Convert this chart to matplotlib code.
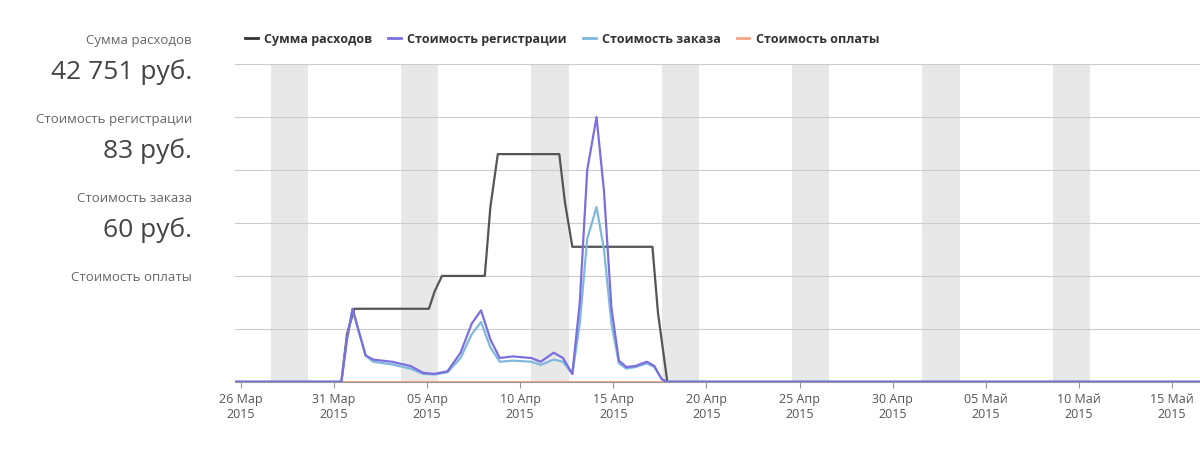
import matplotlib.pyplot as plt
from matplotlib.lines import Line2D

plt.rcParams['font.family'] = ['Open Sans', 'DejaVu Sans']

# day offsets from 26 Mar 2015
tick_days = [0, 5, 10, 15, 20, 25, 30, 35, 40, 45, 50]
tick_labels = ['26 Мар\n2015', '31 Мар\n2015', '05 Апр\n2015', '10 Апр\n2015', '15 Апр\n2015',
               '20 Апр\n2015', '25 Апр\n2015', '30 Апр\n2015', '05 Май\n2015', '10 Май\n2015',
               '15 Май\n2015']
weekend_starts = [1.6, 8.6, 15.6, 22.6, 29.6, 36.6, 43.6]

total_x = [-0.3, 5.4, 5.7, 6.1, 10.1, 10.4, 10.8, 13.1, 13.4, 13.8, 17.1, 17.4, 17.8, 22.1, 22.4, 22.9, 51.5]
total_y = [0, 0, 0.9, 1.38, 1.38, 1.7, 2.0, 2.0, 3.3, 4.3, 4.3, 3.4, 2.55, 2.55, 1.3, 0, 0]

day_x = [-0.3, 5.4, 5.7, 6.0, 6.3, 6.7, 7.1, 8.1, 9.1, 9.8, 10.4, 11.1, 11.8, 12.4, 12.9, 13.4,
         13.9, 14.6, 15.6, 16.1, 16.8, 17.3, 17.8, 18.2, 18.6, 19.1, 19.5, 19.9, 20.3, 20.7,
         21.2, 21.8, 22.2, 22.6, 22.9, 51.5]
reg_y = [0, 0, 0.8, 1.38, 1.0, 0.5, 0.42, 0.38, 0.3, 0.17, 0.15, 0.2, 0.55, 1.1, 1.35, 0.8,
         0.45, 0.48, 0.45, 0.38, 0.55, 0.45, 0.15, 1.5, 4.0, 5.0, 3.6, 1.4, 0.4, 0.28,
         0.3, 0.38, 0.3, 0.05, 0, 0]
order_y = [0, 0, 0.8, 1.38, 1.0, 0.5, 0.38, 0.33, 0.25, 0.15, 0.14, 0.18, 0.45, 0.9, 1.13, 0.65,
           0.38, 0.4, 0.38, 0.32, 0.42, 0.38, 0.15, 1.1, 2.7, 3.3, 2.5, 1.1, 0.35, 0.25,
           0.28, 0.35, 0.28, 0.05, 0, 0]
pay_x = [-0.3, 51.5]
pay_y = [0, 0]

fig = plt.figure(figsize=(12, 4.52), dpi=100)
ax = fig.add_axes([0.196, 0.153, 0.804, 0.703])

for s in weekend_starts:
    ax.axvspan(s, s + 2, color='#e8e8e8', lw=0, zorder=0)
for g in range(1, 7):
    ax.axhline(g, color='#cccccc', lw=0.8, zorder=1)

ax.plot(pay_x, pay_y, color='#f4a582', lw=1.5, zorder=2)
ax.plot(total_x, total_y, color='#555555', lw=1.6, zorder=3)
ax.plot(day_x, order_y, color='#7fb8dc', lw=1.6, zorder=4)
ax.plot(day_x, reg_y, color='#7b6fe0', lw=1.6, zorder=5)

ax.set_xlim(-0.3, 51.5)
ax.set_ylim(0, 6)
ax.set_yticks([])
ax.set_xticks(tick_days)
ax.set_xticklabels(tick_labels, fontsize=9, color='#555555')
ax.tick_params(axis='x', length=4, color='#999999')
for side in ['top', 'right', 'left']:
    ax.spines[side].set_visible(False)
ax.spines['bottom'].set_color('#999999')

handles = [Line2D([], [], color=c, lw=2) for c in ['#333333', '#7b6fe0', '#7fb8dc', '#f4a582']]
names = ['Сумма расходов', 'Стоимость регистрации', 'Стоимость заказа', 'Стоимость оплаты']
fig.legend(handles, names, loc='center left', bbox_to_anchor=(0.195, 0.912), ncol=4,
           frameon=False, prop={'size': 9, 'weight': 'bold'}, handlelength=1.0,
           columnspacing=1.3, handletextpad=0.5, labelcolor='#333333')

left = [('Сумма расходов', '42 751 руб.', 0.91),
        ('Стоимость регистрации', '83 руб.', 0.735),
        ('Стоимость заказа', '60 руб.', 0.56),
        ('Стоимость оплаты', '', 0.385)]
for label, val, y in left:
    fig.text(0.16, y, label, ha='right', va='center', fontsize=9.5, color='#666666')
    if val:
        fig.text(0.16, y - 0.07, val, ha='right', va='center', fontsize=19, color='#444444')

fig.savefig('out.png')
